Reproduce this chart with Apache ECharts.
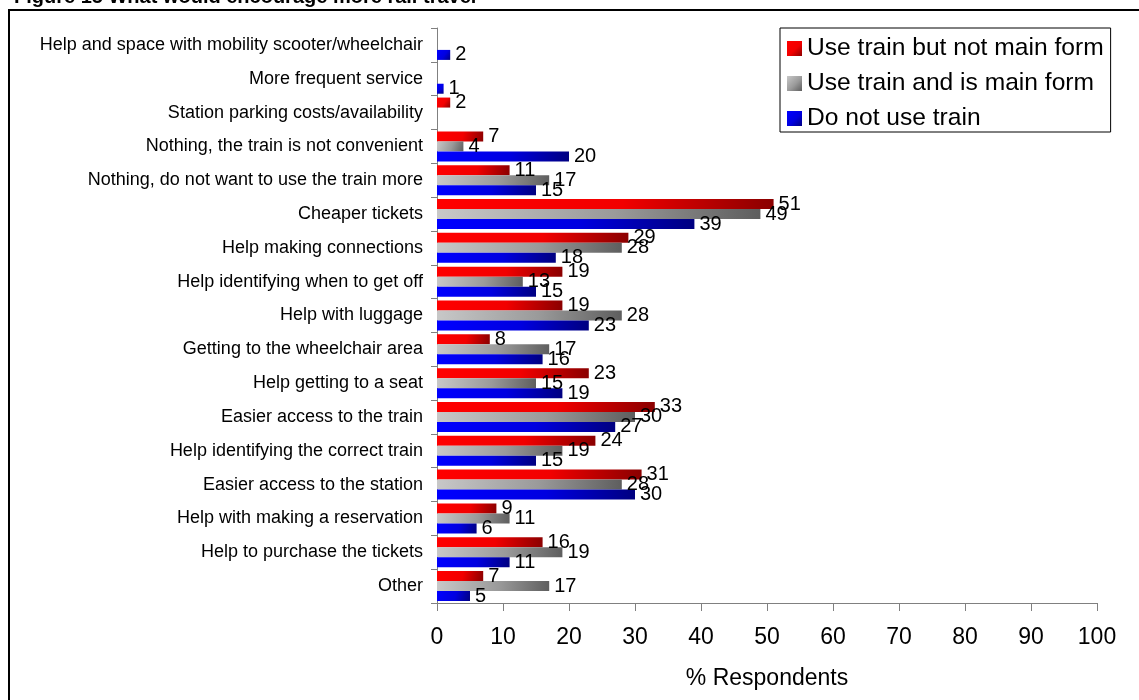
<!DOCTYPE html>
<html>
<head>
<meta charset="utf-8">
<script src="https://cdn.jsdelivr.net/npm/echarts@6/dist/echarts.min.js"></script>
<style>
  html, body { margin: 0; padding: 0; background: #fff; }
  #chart { width: 1139px; height: 700px; }
</style>
</head>
<body>
<div id="chart"></div>
<script>
// categories, top to bottom
var categories = [
  "Help and space with mobility scooter/wheelchair",
  "More frequent service",
  "Station parking costs/availability",
  "Nothing, the train is not convenient",
  "Nothing, do not want to use the train more",
  "Cheaper tickets",
  "Help making connections",
  "Help identifying when to get off",
  "Help with luggage",
  "Getting to the wheelchair area",
  "Help getting to a seat",
  "Easier access to the train",
  "Help identifying the correct train",
  "Easier access to the station",
  "Help with making a reservation",
  "Help to purchase the tickets",
  "Other"
];
var seriesNames = ["Use train but not main form", "Use train and is main form", "Do not use train"];
var notMainForm = ["-", "-", 2, 7, 11, 51, 29, 19, 19, 8, 23, 33, 24, 31, 9, 16, 7];
var isMainForm = ["-", "-", "-", 4, 17, 49, 28, 13, 28, 17, 15, 30, 19, 28, 11, 19, 17];
var noTrain = [2, 1, "-", 20, 15, 39, 18, 15, 23, 16, 19, 27, 15, 30, 6, 11, 5];

var FONT = "Arial, 'Liberation Sans', sans-serif";

// 渐变色
function grad(c0, c1, c2) {
  return {
    type: "linear", x: 0, y: 0, x2: 1, y2: 1,
    colorStops: [
      { offset: 0, color: c0 },
      { offset: 0.55, color: c1 },
      { offset: 1, color: c2 }
    ]
  };
}

function makeSeries(name, data, color) {
  return {
    name: name,
    type: "bar",
    data: data,
    barWidth: 10,
    barGap: "0%",
    itemStyle: { color: color },
    label: {
      show: true,
      position: "right",
      distance: 5,
      color: "#000",
      fontFamily: FONT,
      fontSize: 20
    }
  };
}

var chart = echarts.init(document.getElementById("chart"));
var option = {
  animation: false,
  textStyle: { fontFamily: FONT },
  title: {
    text: "Figure 15 What would encourage more rail travel",
    left: 9,
    top: -18,
    textStyle: { fontSize: 20, fontWeight: "bold", color: "#000", fontFamily: FONT }
  },
  graphic: [
    {
      type: "rect",
      shape: { x: 9, y: 10, width: 1140, height: 700 },
      style: { fill: "none", stroke: "#000", lineWidth: 2 },
      silent: true
    }
  ],
  legend: {
    orient: "vertical",
    left: 780,
    top: 28,
    padding: [8, 7, 1, 7],
    itemWidth: 15,
    itemHeight: 15,
    itemGap: 10,
    itemTextGap: 7,
    borderColor: "#000",
    borderWidth: 1,
    icon: "rect",
    textStyle: { fontSize: 24.6, lineHeight: 24, color: "#000", fontFamily: FONT },
    data: seriesNames
  },
  grid: { left: 437, right: 42, top: 28, bottom: 97, containLabel: false },
  xAxis: {
    type: "value",
    min: 0,
    max: 100,
    interval: 10,
    name: "% Respondents",
    nameLocation: "middle",
    nameGap: 64,
    nameTextStyle: { fontSize: 23, color: "#000", fontFamily: FONT },
    axisLine: { show: true, lineStyle: { color: "#808080", width: 1 } },
    axisTick: { show: true, length: 8, lineStyle: { color: "#808080" } },
    axisLabel: { fontSize: 23, color: "#000", margin: 23, fontFamily: FONT },
    splitLine: { show: false }
  },
  yAxis: {
    type: "category",
    inverse: true,
    data: categories,
    axisLine: { show: true, lineStyle: { color: "#808080", width: 1 } },
    axisTick: { show: true, length: 6, lineStyle: { color: "#808080" } },
    axisLabel: { fontSize: 18, color: "#000", margin: 14, fontFamily: FONT }
  },
  series: [
    makeSeries(seriesNames[0], notMainForm, grad("#FF0000", "#F20000", "#8A0000")),
    makeSeries(seriesNames[1], isMainForm, grad("#C8C8C8", "#9A9A9A", "#5E5E5E")),
    makeSeries(seriesNames[2], noTrain, grad("#0000FF", "#0000E0", "#000080"))
  ]
};
chart.setOption(option);
</script>
</body>
</html>
